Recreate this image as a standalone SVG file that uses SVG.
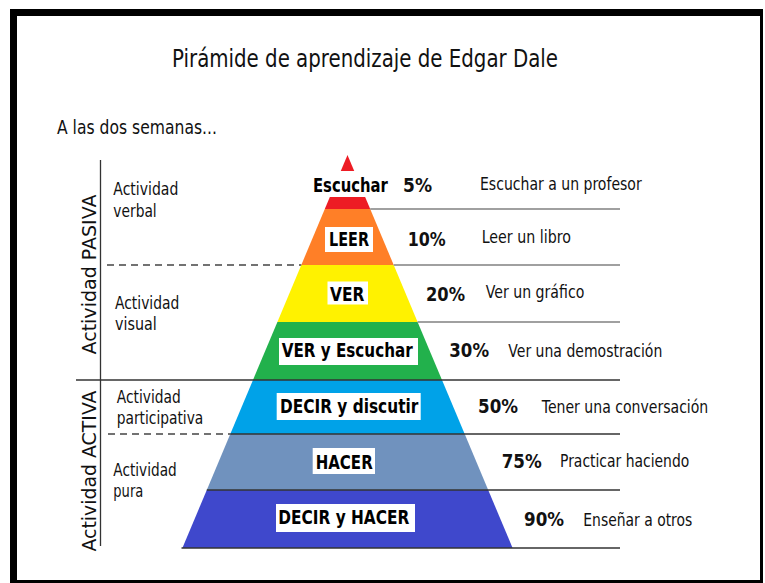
<svg xmlns="http://www.w3.org/2000/svg" width="765" height="583" viewBox="0 0 765 583">
<style>
text{font-family:"DejaVu Sans","Liberation Sans",sans-serif;fill:#111;}
.t{font-size:25px;}
.sub{font-size:20px;}
.lab{font-size:17px;}
.vert{font-size:20px;}
.b{font-size:19px;font-weight:bold;fill:#000;}
.pct{font-size:19px;font-weight:bold;fill:#111;}
.box{fill:#fff;}
.up{stroke:#808080;stroke-width:1.6;fill:none;}
.lo{stroke:#333;stroke-width:1.6;fill:none;}
.dash{stroke:#444;stroke-width:1.3;stroke-dasharray:7 5;fill:none;}
.axis{stroke:#333;stroke-width:1.3;fill:none;}
</style>
<rect x="0" y="0" width="765" height="583" fill="#fff"/>
<rect x="10" y="9" width="753" height="574" fill="#000"/>
<rect x="17" y="16" width="743" height="564" fill="#fff"/>

<g id="title">
<text class="t" x="172" y="66.5" textLength="386" lengthAdjust="spacingAndGlyphs">Pirámide de aprendizaje de Edgar Dale</text>
<text class="sub" x="57" y="134" textLength="160" lengthAdjust="spacingAndGlyphs">A las dos semanas...</text>
</g>

<g id="band-escuchar">
<polygon points="347.5,155 370.2,209 324.8,209" fill="#ED1C24"/>
<rect class="box" x="309" y="171" width="83" height="26"/>
<text class="b" transform="translate(313 191.7) scale(0.78 1)" x="0" y="0">Escuchar</text>
<text class="pct" x="403" y="191.7" textLength="29" lengthAdjust="spacingAndGlyphs">5%</text>
<text class="lab" x="480" y="190" textLength="161.7" lengthAdjust="spacingAndGlyphs">Escuchar a un profesor</text>
</g>

<g id="band-leer">
<polygon points="324.8,209 370.2,209 393.7,265 301.3,265" fill="#FF7F27"/>
<rect class="box" x="325" y="227" width="48" height="25"/>
<text class="b" x="329" y="246" textLength="40" lengthAdjust="spacingAndGlyphs">LEER</text>
<text class="pct" x="407.7" y="246" textLength="38" lengthAdjust="spacingAndGlyphs">10%</text>
<text class="lab" x="481.7" y="243.3" textLength="89.3" lengthAdjust="spacingAndGlyphs">Leer un libro</text>
</g>

<g id="band-ver">
<polygon points="301.3,265 393.7,265 417.6,322 277.4,322" fill="#FFF200"/>
<rect class="box" x="327.5" y="281.5" width="40.5" height="23"/>
<text class="b" x="330" y="300.7" textLength="34.3" lengthAdjust="spacingAndGlyphs">VER</text>
<text class="pct" x="426" y="300.7" textLength="39" lengthAdjust="spacingAndGlyphs">20%</text>
<text class="lab" x="485.7" y="298.3" textLength="98.6" lengthAdjust="spacingAndGlyphs">Ver un gráfico</text>
</g>

<g id="band-ver-escuchar">
<polygon points="277.4,322 417.6,322 442,380 253,380" fill="#22B14C"/>
<rect class="box" x="279" y="338" width="139" height="27"/>
<text class="b" x="281.7" y="356.7" textLength="131" lengthAdjust="spacingAndGlyphs">VER y Escuchar</text>
<text class="pct" x="449.3" y="356.7" textLength="39.7" lengthAdjust="spacingAndGlyphs">30%</text>
<text class="lab" x="508.3" y="356.7" textLength="154" lengthAdjust="spacingAndGlyphs">Ver una demostración</text>
</g>

<g id="band-decir-discutir">
<polygon points="253,380 442,380 464.7,434 230.3,434" fill="#00A2E8"/>
<rect class="box" x="276.7" y="393" width="144" height="27"/>
<text class="b" x="280" y="413.3" textLength="138.3" lengthAdjust="spacingAndGlyphs">DECIR y discutir</text>
<text class="pct" x="478" y="413.3" textLength="40" lengthAdjust="spacingAndGlyphs">50%</text>
<text class="lab" x="541.7" y="413.3" textLength="166.6" lengthAdjust="spacingAndGlyphs">Tener una conversación</text>
</g>

<g id="band-hacer">
<polygon points="230.3,434 464.7,434 488.2,490 206.8,490" fill="#7092BE"/>
<rect class="box" x="312.7" y="448" width="62.3" height="26"/>
<text class="b" x="315.7" y="469" textLength="57" lengthAdjust="spacingAndGlyphs">HACER</text>
<text class="pct" x="501.7" y="467.7" textLength="40" lengthAdjust="spacingAndGlyphs">75%</text>
<text class="lab" x="560" y="467.3" textLength="129.3" lengthAdjust="spacingAndGlyphs">Practicar haciendo</text>
</g>

<g id="band-decir-hacer">
<polygon points="206.8,490 488.2,490 512.6,548 182.4,548" fill="#3F48CC"/>
<rect class="box" x="276" y="504" width="139" height="28"/>
<text class="b" x="278.3" y="524" textLength="131" lengthAdjust="spacingAndGlyphs">DECIR y HACER</text>
<text class="pct" x="524" y="526" textLength="40" lengthAdjust="spacingAndGlyphs">90%</text>
<text class="lab" x="583.3" y="526" textLength="109" lengthAdjust="spacingAndGlyphs">Enseñar a otros</text>
</g>

<g id="activity-labels">
<text class="lab" x="113.3" y="195" textLength="65" lengthAdjust="spacingAndGlyphs">Actividad</text>
<text class="lab" x="113.3" y="216.7" textLength="43.4" lengthAdjust="spacingAndGlyphs">verbal</text>
<text class="lab" x="115" y="309.3" textLength="64.3" lengthAdjust="spacingAndGlyphs">Actividad</text>
<text class="lab" x="115" y="330" textLength="41.7" lengthAdjust="spacingAndGlyphs">visual</text>
<text class="lab" x="116.7" y="403.3" textLength="64" lengthAdjust="spacingAndGlyphs">Actividad</text>
<text class="lab" x="116.7" y="424" textLength="86.6" lengthAdjust="spacingAndGlyphs">participativa</text>
<text class="lab" x="113.3" y="476" textLength="63.4" lengthAdjust="spacingAndGlyphs">Actividad</text>
<text class="lab" x="113.3" y="497" textLength="30" lengthAdjust="spacingAndGlyphs">pura</text>
</g>

<g id="axis-labels">
<text class="vert" x="96" y="354.5" transform="rotate(-90 96 354.5)" textLength="160" lengthAdjust="spacingAndGlyphs">Actividad PASIVA</text>
<text class="vert" x="96" y="551.5" transform="rotate(-90 96 551.5)" textLength="161" lengthAdjust="spacingAndGlyphs">Actividad ACTIVA</text>
</g>

<g id="connectors">
<line class="axis" x1="100.5" y1="160" x2="100.5" y2="546"/>
<line class="up" x1="370.2" y1="209" x2="620" y2="209"/>
<line class="up" x1="393.7" y1="265" x2="620" y2="265"/>
<line class="up" x1="417.6" y1="322" x2="620" y2="322"/>
<line class="dash" x1="107" y1="265" x2="301.3" y2="265"/>
<line class="lo" x1="76" y1="380" x2="620" y2="380"/>
<line class="dash" x1="108" y1="434" x2="230.3" y2="434"/>
<line class="lo" x1="230.3" y1="434" x2="620" y2="434"/>
<line class="lo" x1="206.8" y1="490" x2="620" y2="490"/>
<line class="lo" x1="181.5" y1="548" x2="620" y2="548"/>
</g>
</svg>
